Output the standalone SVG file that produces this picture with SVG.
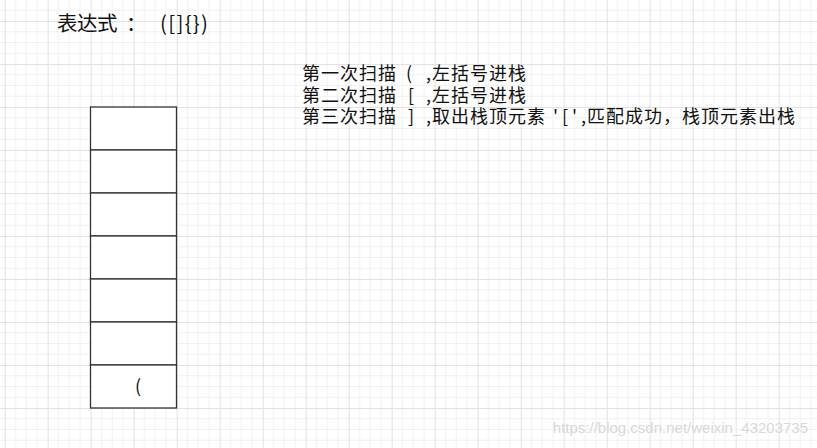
<svg xmlns="http://www.w3.org/2000/svg" width="817" height="448" viewBox="0 0 817 448">
  <defs>
    <pattern id="grid" patternUnits="userSpaceOnUse" x="4.7" y="21" width="43" height="43">
      <rect width="43" height="43" fill="#ffffff"/>
      <path d="M10.75 0V43M21.5 0V43M32.25 0V43M0 10.75H43M0 21.5H43M0 32.25H43" stroke="#f1f1f1" stroke-width="1"/>
      <path d="M0.5 0V43M0 0.5H43" stroke="#e2e2e2" stroke-width="1"/>
    </pattern>
    <style>
      .cell { fill: #ffffff; stroke: #333333; stroke-width: 1.3; }
      .t { font-family: "Noto Sans CJK SC", "Microsoft YaHei", sans-serif; fill: #111111; }
      .d { font-size: 18px; }
      .cjk { letter-spacing: 1px; }
      .wm { font-family: "Liberation Sans", Arial, sans-serif; font-size: 15px; fill: #d8d8d8; }
    </style>
  </defs>
  <rect width="817" height="448" fill="url(#grid)"/>

  <g id="title">
    <text class="t" x="57" y="31" font-size="20.5" letter-spacing="-0.5">表达式<tspan x="126">：</tspan><tspan x="160" letter-spacing="0" textLength="48" lengthAdjust="spacing">([]{})</tspan></text>
  </g>

  <g id="notes">
    <text class="t d" y="80"><tspan class="cjk" x="302">第一次扫描</tspan><tspan x="406">(</tspan><tspan x="426">,</tspan><tspan class="cjk" x="432">左括号进栈</tspan></text>
    <text class="t d" y="101.5"><tspan class="cjk" x="302">第二次扫描</tspan><tspan x="408">[</tspan><tspan x="426">,</tspan><tspan class="cjk" x="432">左括号进栈</tspan></text>
    <text class="t d" y="123"><tspan class="cjk" x="302">第三次扫描</tspan><tspan x="408">]</tspan><tspan x="426">,</tspan><tspan class="cjk" x="432">取出栈顶元素</tspan><tspan x="553">'</tspan><tspan x="562">[</tspan><tspan x="572">'</tspan><tspan x="581">,</tspan><tspan class="cjk" x="587">匹配成功，栈顶元素出栈</tspan></text>
  </g>

  <g id="stack">
    <rect class="cell" x="90.5" y="107" width="86" height="43"/>
    <rect class="cell" x="90.5" y="150" width="86" height="43"/>
    <rect class="cell" x="90.5" y="193" width="86" height="43"/>
    <rect class="cell" x="90.5" y="236" width="86" height="43"/>
    <rect class="cell" x="90.5" y="279" width="86" height="43"/>
    <rect class="cell" x="90.5" y="322" width="86" height="43"/>
    <rect class="cell" x="90.5" y="365" width="86" height="43"/>
    <text class="t" x="135" y="393" font-size="18">(</text>
  </g>

  <g id="watermark">
    <text class="wm" x="808" y="433" text-anchor="end">https://blog.csdn.net/weixin_43203735</text>
  </g>
</svg>
